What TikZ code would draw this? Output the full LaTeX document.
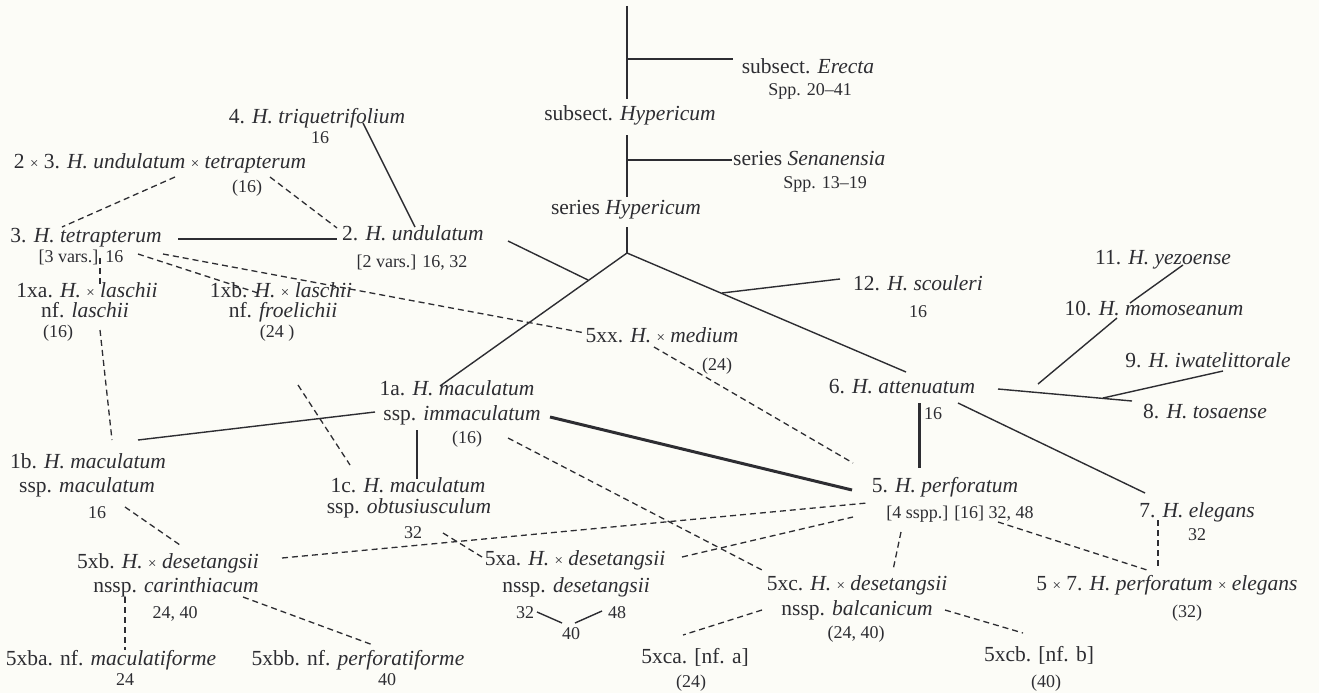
\documentclass[tikz,border=0pt]{standalone}
\usepackage{fontspec}
\setmainfont{Liberation Serif}
\definecolor{bgc}{RGB}{252,252,247}
\definecolor{ink}{RGB}{45,45,50}
\newcommand{\tx}{{\fontsize{15}{15}\selectfont ×}}
\begin{document}
\begin{tikzpicture}[x=1pt,y=-1pt,
  lbl/.style={inner sep=0pt, text=ink, text height=1.08em, text depth=0pt, font=\fontsize{21.5}{24}\selectfont},
  num/.style={inner sep=0pt, text=ink, text height=1.08em, text depth=0pt, font=\fontsize{18}{20}\selectfont},
  ln/.style={draw=ink, line width=1.4pt},
  dl/.style={draw=ink, line width=1.3pt, dash pattern=on 6pt off 4pt},
  thk/.style={draw=ink, line width=3pt}]
\fill[bgc] (0,0) rectangle (1319,693);
\useasboundingbox (0,0) rectangle (1319,693);

% ---------- text nodes ----------
\node[lbl] (erecta) at (808,68) {subsect. \textit{Erecta}};
\node[num] (erectan) at (810,90) {Spp. 20–41};
\node[lbl] (subhyp) at (630,115) {subsect. \textit{Hypericum}};
\node[lbl,anchor=west] (sen) at (733,160) {series \textit{Senanensia}};
\node[num] (senn) at (825,183) {Spp. 13–19};
\node[lbl] (serhyp) at (626,209) {series \textit{Hypericum}};

\node[lbl] (tri) at (317,118) {4. \textit{H. triquetrifolium}};
\node[num] (trin) at (320,138) {16};
\node[lbl] (ut) at (160,163) {2 \tx{} 3. \textit{H. undulatum} \tx{} \textit{tetrapterum}};
\node[num] (utn) at (247,187) {(16)};
\node[lbl] (tet) at (86,237) {3. \textit{H. tetrapterum}};
\node[num] (tetn) at (81,257) {[3 vars.]\hspace{7pt}16};
\node[lbl] (und) at (413,235) {2. \textit{H. undulatum}};
\node[num] (undn) at (412,262) {[2 vars.] 16, 32};

\node[lbl] (xa1) at (87,292) {1xa. \textit{H.} \tx{} \textit{laschii}};
\node[lbl] (xa2) at (85,312) {nf. \textit{laschii}};
\node[num] (xan) at (58,332) {(16)};
\node[lbl] (xb1) at (281,292) {1xb. \textit{H.} \tx{} \textit{laschii}};
\node[lbl] (xb2) at (283,312) {nf. \textit{froelichii}};
\node[num] (xbn) at (277,332) {(24 )};

\node[lbl] (med) at (662,337) {5xx. \textit{H.} \tx{} \textit{medium}};
\node[num] (medn) at (717,365) {(24)};
\node[lbl] (sco) at (918,285) {12. \textit{H. scouleri}};
\node[num] (scon) at (918,312) {16};
\node[lbl] (yez) at (1163,259) {11. \textit{H. yezoense}};
\node[lbl] (mom) at (1154,310) {10. \textit{H. momoseanum}};
\node[lbl] (iwa) at (1208,362) {9. \textit{H. iwatelittorale}};
\node[lbl] (tos) at (1205,413) {8. \textit{H. tosaense}};
\node[lbl] (att) at (902,388) {6. \textit{H. attenuatum}};
\node[num] (attn) at (933,414) {16};

\node[lbl] (a1) at (457,390) {1a. \textit{H. maculatum}};
\node[lbl] (a2) at (462,415) {ssp. \textit{immaculatum}};
\node[num] (an) at (467,438) {(16)};
\node[lbl] (b1) at (88,463) {1b. \textit{H. maculatum}};
\node[lbl] (b2) at (87,487) {ssp. \textit{maculatum}};
\node[num] (bn) at (97,513) {16};
\node[lbl] (c1) at (408,487) {1c. \textit{H. maculatum}};
\node[lbl] (c2) at (409,508) {ssp. \textit{obtusiusculum}};
\node[num] (cn) at (413,533) {32};

\node[lbl] (perf) at (945,487) {5. \textit{H. perforatum}};
\node[num] (perfn) at (960,513) {[4 sspp.] [16] 32, 48};
\node[lbl] (ele) at (1197,512) {7. \textit{H. elegans}};
\node[num] (elen) at (1197,535) {32};
\node[lbl] (pe) at (1167,585) {5 \tx{} 7. \textit{H. perforatum} \tx{} \textit{elegans}};
\node[num] (pen) at (1187,612) {(32)};

\node[lbl] (xb5a) at (168,563) {5xb. \textit{H.} \tx{} \textit{desetangsii}};
\node[lbl] (xb5b) at (176,587) {nssp. \textit{carinthiacum}};
\node[num] (xb5n) at (175,613) {24, 40};
\node[lbl] (ba) at (111,660) {5xba. nf. \textit{maculatiforme}};
\node[num] (ban) at (125,680) {24};
\node[lbl] (bb) at (358,660) {5xbb. nf. \textit{perforatiforme}};
\node[num] (bbn) at (387,680) {40};

\node[lbl] (xa5a) at (575,560) {5xa. \textit{H.} \tx{} \textit{desetangsii}};
\node[lbl] (xa5b) at (576,587) {nssp. \textit{desetangsii}};
\node[num] (n32) at (525,613) {32};
\node[num] (n48) at (617,613) {48};
\node[num] (n40) at (571,634) {40};

\node[lbl] (xc5a) at (857,585) {5xc. \textit{H.} \tx{} \textit{desetangsii}};
\node[lbl] (xc5b) at (857,610) {nssp. \textit{balcanicum}};
\node[num] (xc5n) at (856,633) {(24, 40)};
\node[lbl] (ca) at (695,658) {5xca. [nf. a]};
\node[num] (can) at (691,682) {(24)};
\node[lbl] (cb) at (1039,656) {5xcb. [nf. b]};
\node[num] (cbn) at (1046,682) {(40)};

% ---------- connector points ----------
\coordinate (top0) at (627,6);
\coordinate (top1) at (627,99);
\coordinate (erJ) at (627,59);
\coordinate (erE) at (733,59);
\coordinate (mid0) at (627,135);
\coordinate (mid1) at (627,197);
\coordinate (senJ) at (627,160);
\coordinate (senE) at (732,160);
\coordinate (low0) at (627,227);
\coordinate (J) at (627,253);
\coordinate (aT) at (440,386);
\coordinate (attT) at (906,372);
\coordinate (undJ) at (588,280);
\coordinate (undE) at (508,241);
\coordinate (scoJ) at (722,293);
\coordinate (scoE) at (840,279);
\coordinate (triS) at (363,123);
\coordinate (triE) at (415,227);
\coordinate (tetE) at (178,239);
\coordinate (undW) at (337,239);
\coordinate (utL) at (175,177);
\coordinate (tetT) at (62,227);
\coordinate (utR) at (270,177);
\coordinate (undT) at (337,228);
\coordinate (tetA) at (138,254);
\coordinate (xbT) at (258,293);
\coordinate (tetB) at (163,254);
\coordinate (medW) at (585,333);
\coordinate (tetC) at (100,258);
\coordinate (xaT) at (100,287);
\coordinate (xaB) at (100,330);
\coordinate (bT) at (112,440);
\coordinate (xbB) at (298,385);
\coordinate (cT) at (350,465);
\coordinate (aW) at (375,412);
\coordinate (bE) at (138,440);
\coordinate (aB) at (417,430);
\coordinate (cTop) at (417,479);
\coordinate (aE) at (550,417);
\coordinate (pW) at (852,490);
\coordinate (medB) at (654,347);
\coordinate (pNW) at (853,463);
\coordinate (aSE) at (508,438);
\coordinate (xcT) at (762,570);
\coordinate (attB) at (919,403);
\coordinate (pT) at (919,468);
\coordinate (attR) at (958,403);
\coordinate (eleT) at (1145,493);
\coordinate (attE) at (998,389);
\coordinate (tosW) at (1132,401);
\coordinate (iwaS) at (1223,371);
\coordinate (iwaE) at (1103,398);
\coordinate (yezS) at (1183,265);
\coordinate (yezE) at (1130,303);
\coordinate (momS) at (1117,318);
\coordinate (momE) at (1038,384);
\coordinate (bB) at (125,507);
\coordinate (xb5T) at (180,545);
\coordinate (xb5E) at (282,558);
\coordinate (pSW) at (867,503);
\coordinate (cnE) at (443,533);
\coordinate (xa5W) at (482,557);
\coordinate (xa5E) at (682,557);
\coordinate (pSW2) at (853,517);
\coordinate (pS) at (901,532);
\coordinate (xcN) at (893,570);
\coordinate (pSE) at (998,522);
\coordinate (peT) at (1147,570);
\coordinate (eleB) at (1158,520);
\coordinate (peT2) at (1158,568);
\coordinate (xb5B) at (125,597);
\coordinate (baT) at (125,650);
\coordinate (xb5R) at (243,597);
\coordinate (bbT) at (373,645);
\coordinate (xcL) at (762,610);
\coordinate (caT) at (683,635);
\coordinate (xcR) at (945,610);
\coordinate (cbT) at (1023,633);
\coordinate (n32E) at (537,612);
\coordinate (n40L) at (562,623);
\coordinate (n40R) at (575,623);
\coordinate (n48W) at (602,611);

% ---------- connectors ----------
\draw[ln] (top0) -- (top1);
\draw[ln] (erJ) -- (erE);
\draw[ln] (mid0) -- (mid1);
\draw[ln] (senJ) -- (senE);
\draw[ln] (low0) -- (J);
\draw[ln] (J) -- (aT);
\draw[ln] (J) -- (attT);
\draw[ln] (undJ) -- (undE);
\draw[ln] (scoJ) -- (scoE);
\draw[ln] (triS) -- (triE);
\draw[ln] (tetE) -- (undW);
\draw[dl] (utL) -- (tetT);
\draw[dl] (utR) -- (undT);
\draw[dl] (tetA) -- (xbT);
\draw[dl] (tetB) -- (medW);
\draw[dl] (tetC) -- (xaT);
\draw[dl] (xaB) -- (bT);
\draw[dl] (xbB) -- (cT);
\draw[ln] (aW) -- (bE);
\draw[ln] (aB) -- (cTop);
\draw[thk] (aE) -- (pW);
\draw[dl] (medB) -- (pNW);
\draw[dl] (aSE) -- (xcT);
\draw[thk] (attB) -- (pT);
\draw[ln] (attR) -- (eleT);
\draw[ln] (attE) -- (tosW);
\draw[ln] (iwaS) -- (iwaE);
\draw[ln] (yezS) -- (yezE);
\draw[ln] (momS) -- (momE);
\draw[dl] (bB) -- (xb5T);
\draw[dl] (xb5E) -- (pSW);
\draw[dl] (cnE) -- (xa5W);
\draw[dl] (xa5E) -- (pSW2);
\draw[dl] (pS) -- (xcN);
\draw[dl] (pSE) -- (peT);
\draw[dl] (eleB) -- (peT2);
\draw[dl] (xb5B) -- (baT);
\draw[dl] (xb5R) -- (bbT);
\draw[dl] (xcL) -- (caT);
\draw[dl] (xcR) -- (cbT);
\draw[ln] (n32E) -- (n40L);
\draw[ln] (n40R) -- (n48W);
\end{tikzpicture}
\end{document}
